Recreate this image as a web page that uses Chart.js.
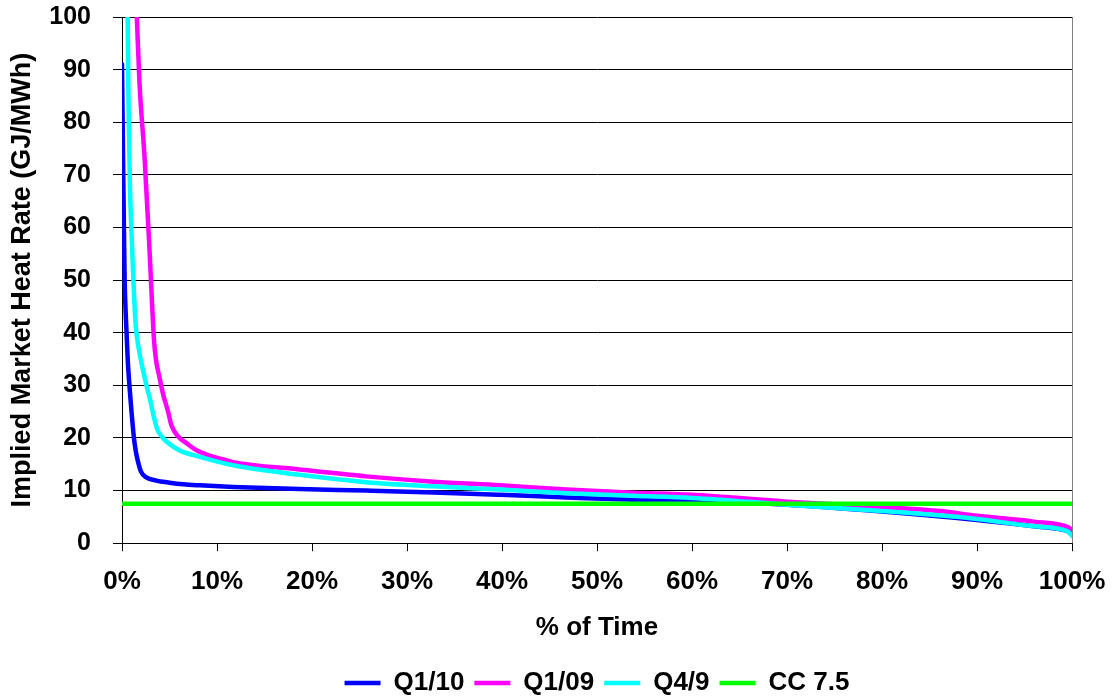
<!DOCTYPE html>
<html>
<head>
<meta charset="utf-8">
<script src="https://cdn.jsdelivr.net/npm/chart.js@4/dist/chart.umd.min.js"></script>
<style>
  html, body { margin: 0; padding: 0; background: #fff; }
  #wrap { width: 1114px; height: 700px; }
</style>
</head>
<body>
<div id="wrap"><canvas id="chart" width="1114" height="700"></canvas></div>
<script>
// % of time (x) and implied heat rate (y)
const q110Pct = [0, 0.07, 0.14, 0.21, 0.28, 0.43, 0.6, 0.78, 1.0, 1.24, 1.45, 1.67, 2.0, 2.55, 3.6, 5, 6.45, 8.2, 11.7, 18.7, 25.7, 32.8, 39.8, 46.8, 53.8, 60, 70, 80, 90, 96, 99.5, 100];
const q110Val = [91, 80, 69, 59, 50, 42, 35, 30, 25, 20.3, 17.5, 15.6, 13.6, 12.5, 11.9, 11.5, 11.2, 11.0, 10.7, 10.3, 10.0, 9.65, 9.2, 8.7, 8.25, 8.0, 7.3, 6.0, 4.4, 3.2, 2.3, 1.8];

const q109Pct = [1.56, 1.84, 2.38, 2.9, 3.37, 3.6, 3.9, 4.3, 4.85, 5.2, 5.9, 6.8, 7.9, 9.3, 10.7, 11.7, 18.7, 25.7, 32.8, 39.8, 46.8, 53.8, 60, 70, 80, 86.2, 90, 96, 99.5, 100];
const q109Val = [100, 87.5, 73.2, 55.6, 38.6, 34.6, 31.9, 28.5, 25, 22.4, 20.3, 19, 17.6, 16.6, 15.9, 15.4, 14.0, 12.7, 11.7, 11.0, 10.2, 9.6, 9.2, 7.9, 6.9, 6.1, 5.2, 4.1, 3.1, 2.5];

const q49Pct = [0.6, 0.67, 0.82, 1.0, 1.13, 1.42, 1.67, 2.2, 2.6, 3.0, 3.3, 3.7, 4.3, 5.2, 6.1, 8.2, 11.7, 18.7, 25.7, 32.8, 39.8, 46.8, 53.8, 60, 70, 80, 86, 90, 96, 99.5, 100];
const q49Val = [100, 86, 69, 59, 53, 42, 38, 33, 29.8, 27, 24.4, 21.7, 20, 18.6, 17.6, 16.4, 14.8, 13.0, 11.6, 10.8, 10.2, 9.5, 9.0, 8.6, 7.3, 6.1, 5.3, 4.6, 3.2, 2.3, 1.4];

const ccPct = [0, 100];
const ccVal = [7.5, 7.5];

const seriesNames = ['Q1/10', 'Q1/09', 'Q4/9', 'CC 7.5'];
const xTicks = [0, 10, 20, 30, 40, 50, 60, 70, 80, 90, 100];

const pts = (xs, ys) => xs.map((x, i) => ({x, y: ys[i]}));

Chart.defaults.font.family = '"Liberation Sans", Arial, sans-serif';
Chart.defaults.font.weight = 'bold';
Chart.defaults.color = '#000';

const line = (label, data, color, order) => ({
  label, data, order,
  borderColor: color, backgroundColor: color,
  borderWidth: 4.5, pointRadius: 0, fill: false,
  cubicInterpolationMode: 'monotone', borderCapStyle: 'round', borderJoinStyle: 'round'
});

// gray frame on the right side of the plot
const frame = {
  id: 'frame',
  afterDatasetsDraw(chart){
    const {ctx, chartArea: a} = chart;
    ctx.save();
    ctx.strokeStyle = '#808080';
    ctx.lineWidth = 1;
    ctx.beginPath();
    ctx.moveTo(Math.round(a.right) + 0.5, a.top);
    ctx.lineTo(Math.round(a.right) + 0.5, a.bottom);
    ctx.stroke();
    ctx.restore();
  }
};

new Chart(document.getElementById('chart'), {
  type: 'line',
  data: {
    datasets: [
      line(seriesNames[0], pts(q110Pct, q110Val), '#0000ff', 4),
      line(seriesNames[1], pts(q109Pct, q109Val), '#ff00ff', 3),
      line(seriesNames[2], pts(q49Pct, q49Val), '#00ffff', 2),
      line(seriesNames[3], pts(ccPct, ccVal), '#00ff00', 1)
    ]
  },
  options: {
    responsive: false,
    animation: false,
    devicePixelRatio: 1,
    layout: { padding: { left: 0, right: 42, top: 17, bottom: -6 } },
    plugins: {
      tooltip: { enabled: false },
      legend: {
        position: 'bottom',
        fullSize: false,
        reverse: true,
        labels: {
          usePointStyle: true, pointStyle: 'line', pointStyleWidth: 36,
          padding: 10,
          font: { size: 26, weight: 'bold' }, color: '#000'
        }
      }
    },
    scales: {
      x: {
        type: 'linear', min: 0, max: 100,
        afterBuildTicks: s => { s.ticks = xTicks.map(v => ({value: v})); },
        ticks: { padding: 15, font: { size: 26, weight: 'bold' }, color: '#000', callback: v => v + '%', maxRotation: 0 },
        grid: { drawOnChartArea: false, drawTicks: true, tickLength: 8, color: '#000' },
        border: { color: '#000', width: 1 },
        title: { display: true, text: '% of Time', font: { size: 26, weight: 'bold' }, color: '#000', padding: { top: 0, bottom: 16.4 } },
        afterFit: s => { s.paddingLeft = 20; s.paddingRight = 34; }
      },
      y: {
        min: 0, max: 100,
        ticks: { stepSize: 10, padding: 22, font: { size: 25, weight: 'bold' }, color: '#000' },
        grid: { color: '#000', lineWidth: 1, tickLength: 9 },
        border: { color: '#000', width: 1 },
        title: { display: true, text: 'Implied Market Heat Rate (GJ/MWh)', font: { size: 27, weight: 'bold' }, color: '#000', padding: { top: 6, bottom: 6 } },
        afterFit: s => { s.width = 122; s.paddingTop = 15; s.paddingBottom = 15; }
      }
    }
  },
  plugins: [frame]
});
</script>
</body>
</html>
